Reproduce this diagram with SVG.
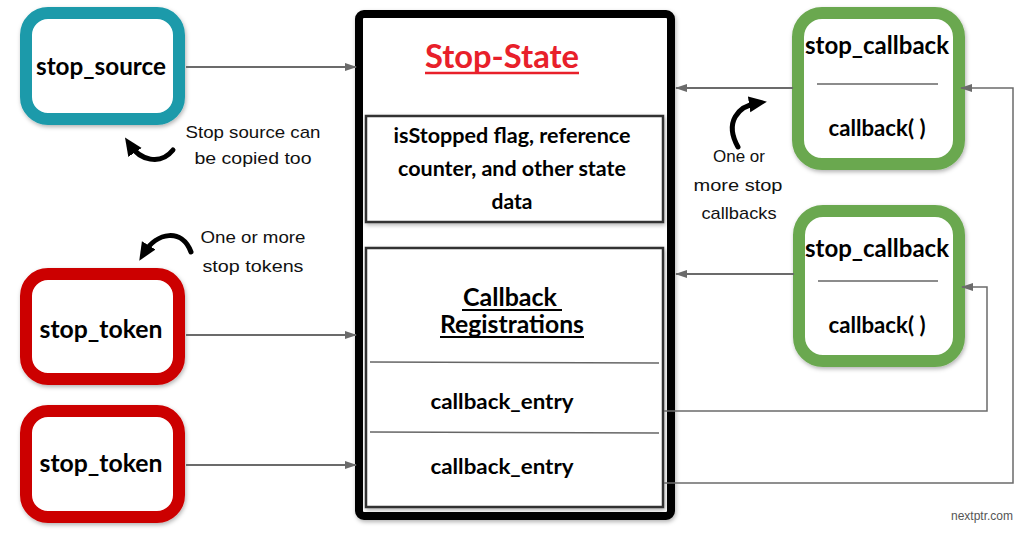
<svg xmlns="http://www.w3.org/2000/svg" width="1024" height="534" viewBox="0 0 1024 534">
<style>
.lbl{font-family:"Lato","Liberation Sans",sans-serif;font-weight:700;fill:#000;text-anchor:middle}
.note{font-family:"Liberation Sans","DejaVu Sans",sans-serif;font-size:17px;fill:#111;text-anchor:middle}
.conn{fill:none;stroke:#6b6b6b;stroke-width:2}
.thin{fill:none;stroke:#6b6b6b;stroke-width:1.5}
.curl{fill:none;stroke:#000;stroke-width:5;stroke-linecap:round}
.src{fill:#fff;stroke:#1b9aaa;stroke-width:12}
.tok{fill:#fff;stroke:#cc0000;stroke-width:12}
.cb{fill:#fff;stroke:#6aa84f;stroke-width:12}
.inner{fill:#fff;stroke:#333;stroke-width:2.5}
.div{stroke:#666;stroke-width:1.5}
</style>
<defs>
<filter id="sh" x="-10%" y="-10%" width="130%" height="130%"><feDropShadow dx="1" dy="2" stdDeviation="2" flood-color="#000" flood-opacity="0.3"/></filter>
<marker id="ga" markerUnits="userSpaceOnUse" markerWidth="12" markerHeight="10" refX="11" refY="5" orient="auto"><path d="M0,1 L12,5 L0,9 Z" fill="#6b6b6b"/></marker>
<marker id="ba" markerUnits="userSpaceOnUse" markerWidth="18" markerHeight="18" refX="9" refY="9" orient="auto"><path d="M0,1 L18,9 L0,17 Z" fill="#000"/></marker>
</defs>
<rect width="1024" height="534" fill="#fff"/>

<g id="stop_state">
<rect x="359" y="14" width="312" height="502" rx="5" fill="#fff" stroke="#000" stroke-width="8" filter="url(#sh)"/>
<text class="lbl" x="502" y="68" font-size="32" fill="#e8202a" style="fill:#e8202a" textLength="154" lengthAdjust="spacingAndGlyphs">Stop-State</text>
<line x1="425" y1="73" x2="579" y2="73" stroke="#e8202a" stroke-width="2.5"/>
</g>

<g id="state_data">
<rect class="inner" x="366" y="116" width="297" height="106" filter="url(#sh)"/>
<text class="lbl" x="512" y="143" font-size="21" textLength="237" lengthAdjust="spacingAndGlyphs">isStopped flag, reference</text>
<text class="lbl" x="512" y="176" font-size="21" textLength="228" lengthAdjust="spacingAndGlyphs">counter, and other state</text>
<text class="lbl" x="512" y="209" font-size="21">data</text>
</g>

<g id="registrations">
<rect class="inner" x="366" y="248" width="297" height="259" filter="url(#sh)"/>
<text class="lbl" x="510" y="306" font-size="24" textLength="94" lengthAdjust="spacingAndGlyphs">Callback</text>
<line x1="462" y1="310" x2="562" y2="310" stroke="#000" stroke-width="2"/>
<text class="lbl" x="512" y="333" font-size="24" textLength="144" lengthAdjust="spacingAndGlyphs">Registrations</text>
<line x1="440" y1="337" x2="584" y2="337" stroke="#000" stroke-width="2"/>
<line class="div" x1="370" y1="362" x2="659" y2="363"/>
</g>

<g id="entry1">
<text class="lbl" x="502" y="409" font-size="21" textLength="143" lengthAdjust="spacingAndGlyphs">callback_entry</text>
<line class="div" x1="370" y1="432" x2="659" y2="433"/>
</g>
<g id="entry2">
<text class="lbl" x="502" y="474" font-size="21" textLength="143" lengthAdjust="spacingAndGlyphs">callback_entry</text>
</g>

<g id="stop_source">
<rect class="src" x="26" y="13" width="153" height="106" rx="22" filter="url(#sh)"/>
<text class="lbl" x="101" y="75" font-size="24" textLength="130" lengthAdjust="spacingAndGlyphs">stop_source</text>
</g>

<g id="stop_token1">
<rect class="tok" x="26" y="274" width="153" height="105" rx="22" filter="url(#sh)"/>
<text class="lbl" x="101" y="338" font-size="24" textLength="123" lengthAdjust="spacingAndGlyphs">stop_token</text>
</g>

<g id="stop_token2">
<rect class="tok" x="26" y="411" width="153" height="106" rx="22" filter="url(#sh)"/>
<text class="lbl" x="101" y="472" font-size="24" textLength="123" lengthAdjust="spacingAndGlyphs">stop_token</text>
</g>

<g id="stop_callback1">
<rect class="cb" x="798" y="13" width="161" height="151" rx="24" filter="url(#sh)"/>
<text class="lbl" x="877" y="54" font-size="24" textLength="144" lengthAdjust="spacingAndGlyphs">stop_callback</text>
<line class="div" x1="817" y1="84" x2="938" y2="84"/>
<text class="lbl" x="877" y="136" font-size="22" textLength="97" lengthAdjust="spacingAndGlyphs">callback( )</text>
</g>

<g id="stop_callback2">
<rect class="cb" x="799" y="211" width="160" height="150" rx="24" filter="url(#sh)"/>
<text class="lbl" x="877" y="257" font-size="24" textLength="144" lengthAdjust="spacingAndGlyphs">stop_callback</text>
<line class="div" x1="818" y1="281" x2="938" y2="281"/>
<text class="lbl" x="877" y="333" font-size="22" textLength="97" lengthAdjust="spacingAndGlyphs">callback( )</text>
</g>

<g id="connectors">
<line class="conn" x1="186" y1="67" x2="356" y2="67" marker-end="url(#ga)"/>
<line class="conn" x1="186" y1="335" x2="356" y2="335" marker-end="url(#ga)"/>
<line class="conn" x1="186" y1="465" x2="356" y2="465" marker-end="url(#ga)"/>
<line class="conn" x1="793" y1="88" x2="676" y2="88" marker-end="url(#ga)"/>
<line class="conn" x1="794" y1="274" x2="676" y2="274" marker-end="url(#ga)"/>
<polyline class="thin" points="664,483 1013,483 1013,88 961,88" marker-end="url(#ga)"/>
<polyline class="thin" points="664,411 987,411 987,287 962,287" marker-end="url(#ga)"/>
<path class="curl" d="M173,150 C160,166 140,160 130,145" marker-end="url(#ba)"/>
<path class="curl" d="M191,252 C182,228 157,232 144,253" marker-end="url(#ba)"/>
<path class="curl" d="M738,147 C724,122 738,106 758,103" marker-end="url(#ba)"/>
</g>

<g id="notes">
<text class="note" x="253" y="138" textLength="135" lengthAdjust="spacingAndGlyphs">Stop source can</text>
<text class="note" x="253" y="164" textLength="117" lengthAdjust="spacingAndGlyphs">be copied too</text>
<text class="note" x="253" y="243" textLength="105" lengthAdjust="spacingAndGlyphs">One or more</text>
<text class="note" x="253" y="272" textLength="101" lengthAdjust="spacingAndGlyphs">stop tokens</text>
<text class="note" x="739" y="162">One or</text>
<text class="note" x="738" y="191" textLength="89" lengthAdjust="spacingAndGlyphs">more stop</text>
<text class="note" x="739" y="219" textLength="75" lengthAdjust="spacingAndGlyphs">callbacks</text>
<text x="982" y="520" font-family="Liberation Sans, sans-serif" font-size="12" fill="#555" text-anchor="middle">nextptr.com</text>
</g>
</svg>
